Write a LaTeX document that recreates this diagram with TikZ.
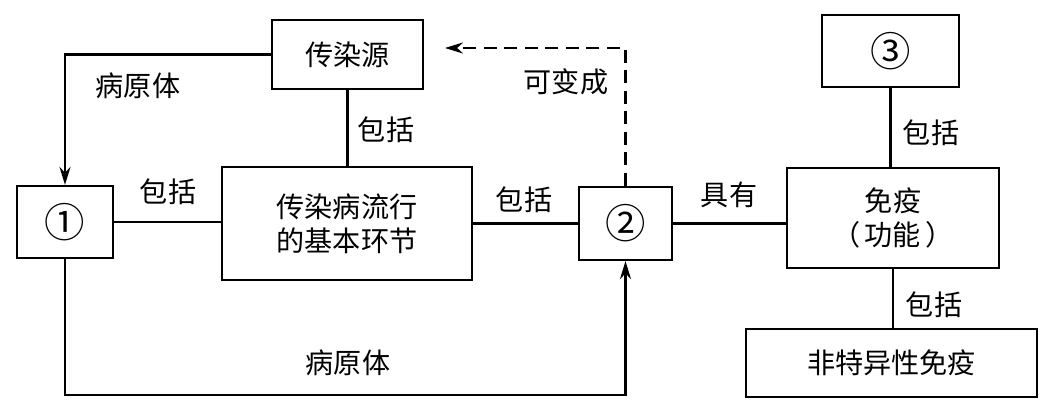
\documentclass[tikz,border=0pt]{standalone}
\usepackage{fontspec}
\setmainfont{Noto Sans CJK SC}
\usepackage{tikz}
\usetikzlibrary{calc, arrows.meta}

\tikzset{
	box/.style = {draw, line width = 1.3pt, align = center, inner sep = 0pt},
	numbox/.style = {box, font = \fontsize{23pt}{26pt}\selectfont},
	link/.style = {line width = 1.3pt},
	arr/.style = {link, -{Stealth[length = 3.6mm, width = 2.2mm]}},
	dashlink/.style = {arr, dash pattern = on 2.6mm off 1.5mm}
}

\begin{document}
\begin{tikzpicture}[font = \fontsize{16pt}{19.5pt}\selectfont]
		%frame
		\useasboundingbox (0,0) rectangle (21.06,8.22);
		
		%boxes
		\node [box, minimum width = 3.02cm, minimum height = 1.38cm] (src) at (6.95,7.13) {传染源};
		\node [numbox, minimum width = 1.92cm, minimum height = 1.44cm] (n1) at (1.30,3.78) {①};
		\node [box, minimum width = 5.00cm, minimum height = 2.26cm] (chain) at (6.94,3.75) {传染病流行\\的基本环节};
		\node [numbox, minimum width = 1.86cm, minimum height = 1.46cm] (n2) at (12.51,3.75) {②};
		\node [box, minimum width = 4.24cm, minimum height = 2.00cm] (imm) at (17.86,3.86) {免疫\\（\,功能\,）};
		\node [numbox, minimum width = 2.74cm, minimum height = 1.44cm] (n3) at (17.81,7.20) {③};
		\node [box, minimum width = 5.82cm, minimum height = 1.36cm] (nonspec) at (17.83,0.96) {非特异性免疫};
		
		%corners
		\coordinate (low) at (0,0.32);
		\coordinate (dtop) at (0,7.26);
		\coordinate (dend) at (8.90,7.26);
		
		%connectors
		\draw [arr] (src.west) -| (n1.north);
		\draw [link] (src.south) -- (src.south |- chain.north);
		\draw [link] (n1.east) -- (n1.east -| chain.west);
		\draw [arr] (n1.south) -- (n1.south |- low) -| (n2.south);
		\draw [link] (chain.east) -- (chain.east -| n2.west);
		\draw [dashlink] (n2.north) -- (n2.north |- dtop) -- (dend);
		\draw [link] (n2.east) -- (n2.east -| imm.west);
		\draw [link] (n3.south) -- (n3.south |- imm.north);
		\draw [link] (imm.south) -- (imm.south |- nonspec.north);
		
		%labels
		\node (lp1) at (2.76,6.50) {病原体};
		\node (li1) at (7.72,5.62) {包括};
		\node (li2) at (3.36,4.38) {包括};
		\node (lp2) at (6.96,0.96) {病原体};
		\node (li3) at (10.48,4.22) {包括};
		\node (lc) at (11.32,6.58) {可变成};
		\node (lh) at (14.58,4.32) {具有};
		\node (li4) at (18.62,5.56) {包括};
		\node (li5) at (18.68,2.12) {包括};
	\end{tikzpicture}
\end{document}
